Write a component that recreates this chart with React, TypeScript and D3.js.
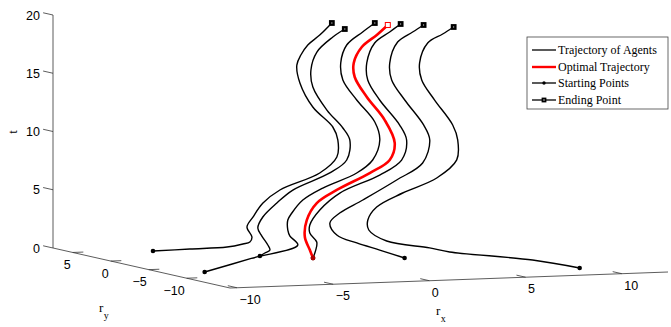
import React from 'react';
import * as d3 from 'd3';

// axis limits (rx, ry, t)
const rxDomain = [-10.36, 12.4];
const ryDomain = [-15.7, 7.6];
const tDomain = [0, 20];

const rxTicks = [-10, -5, 0, 5, 10];
const ryTicks = [-10, -5, 0, 5];
const tTicks = [0, 5, 10, 15, 20];

// each agent: [t, rx, ry]
const agentA = [
  [0, -6.49, 4.24], [0.45, -5.48, 1.94], [0.9, -4.46, -0.36], [1.31, -4.09, -1.52],
  [1.46, -3.73, -1.52], [1.88, -3.62, -1.52], [2.75, -3.88, -1.52], [3.59, -3.57, -1.52],
  [4.76, -3.05, -1.52], [5.83, -2.17, -1.52], [7.16, -0.1, -1.52], [8.48, 0.79, -1.52],
  [9.94, 0.84, -1.52], [11.07, 0.58, -1.52], [12.85, -0.46, -1.52], [14.95, -1.13, -1.52],
  [16.5, -1.29, -1.52], [17.35, -1.08, -1.52], [18.19, -0.72, -1.52], [19.0, -0.1, -1.52],
  [20, 0.53, -1.52],
];
const agentB = [
  [0, -2.69, -0.21], [0.6, -3.26, -2.3], [1.26, -3.97, -4.77], [1.7, -4.08, -4.77],
  [2.49, -4.39, -4.77], [3.19, -4.6, -4.77], [4.12, -4.34, -4.77], [5.28, -3.61, -4.77],
  [6.34, -2.78, -4.77], [7.69, -0.86, -4.77], [8.75, 0.02, -4.77], [10.46, 0.18, -4.77],
  [11.51, -0.18, -4.77], [13.1, -1.01, -4.77], [15.12, -1.74, -4.77], [16.59, -1.84, -4.77],
  [18.11, -1.53, -4.77], [19.35, -0.7, -4.77], [20, -0.08, -4.77],
];
const agentC = [
  [0, -8.33, -7.22], [0.6, -4.94, -4.77], [1.19, -1.55, -2.31], [1.98, -1.96, -2.31],
  [2.5, -2.07, -2.31], [3.36, -2.07, -2.31], [3.95, -1.86, -2.31], [5.03, -1.29, -2.31],
  [6.0, -0.25, -2.31], [7.18, 1.51, -2.31], [8.25, 2.34, -2.31], [9.94, 2.71, -2.31],
  [11.5, 2.45, -2.31], [13.45, 1.51, -2.31], [15.21, 0.79, -2.31], [16.67, 0.68, -2.31],
  [18.2, 0.99, -2.31], [19.27, 1.82, -2.31], [20, 2.45, -2.31],
];
const agentD = [
  [0, -0.71, -2.18], [0.87, -1.0, -3.28], [1.55, -0.95, -3.28], [2.34, -1.31, -3.28],
  [3.03, -1.31, -3.28], [4.29, -0.79, -3.28], [5.68, 0.25, -3.28], [7.1, 2.32, -3.28],
  [8.32, 3.46, -3.28], [10.02, 3.72, -3.28], [11.33, 3.36, -3.28], [13.54, 2.32, -3.28],
  [15.3, 1.7, -3.28], [16.76, 1.65, -3.28], [18.45, 2.06, -3.28], [19.35, 2.84, -3.28],
  [20, 3.41, -3.28],
];
const agentE = [
  [0, 3.39, -3.85], [0.82, 1.96, -4.2], [1.5, 0.77, -4.2], [2.25, -0.27, -4.2],
  [3.3, -0.63, -4.2], [4.12, -0.12, -4.2], [5.17, 1.08, -4.2], [6.78, 2.84, -4.2],
  [8.16, 4.19, -4.2], [10.11, 4.56, -4.2], [11.42, 4.24, -4.2], [13.62, 3.26, -4.2],
  [15.38, 2.58, -4.2], [16.84, 2.48, -4.2], [18.62, 2.89, -4.2], [19.43, 3.67, -4.2],
  [20, 4.24, -4.2],
];
const agentF = [
  [0, 9.25, -12.05], [0.3, 8.03, -8.94], [0.7, 4.98, -5.75], [1.11, 3.94, -5.75],
  [1.84, 1.71, -5.75], [2.84, 0.78, -5.75], [3.7, 0.73, -5.75], [4.79, 1.19, -5.75],
  [5.91, 2.54, -5.75], [7.09, 4.31, -5.75], [8.58, 5.35, -5.75], [10.29, 5.4, -5.75],
  [11.59, 5.14, -5.75], [13.79, 4.2, -5.75], [15.55, 3.53, -5.75], [17.02, 3.42, -5.75],
  [18.71, 3.84, -5.75], [19.43, 4.62, -5.75], [20, 5.19, -5.75],
];
const optimal = [
  [0, -0.71, -2.18], [0.93, -1.41, -3.54], [2.06, -1.67, -3.54], [3.51, -1.57, -3.54],
  [4.94, -1.05, -3.54], [6.0, -0.01, -3.54], [7.35, 1.7, -3.54], [8.41, 2.74, -3.54],
  [9.85, 3.0, -3.54], [11.85, 2.48, -3.54], [13.88, 1.55, -3.54], [15.64, 0.92, -3.54],
  [16.84, 0.87, -3.54], [18.19, 1.29, -3.54], [19.18, 2.07, -3.54], [20, 2.64, -3.54],
];

const agents = [agentA, agentB, agentC, agentD, agentE, agentF];
const legendLabels = ['Trajectory of Agents', 'Optimal Trajectory', 'Starting Points', 'Ending Point'];

const width = 671;
const height = 327;

// screen corners of the axis box (orthographic view)
const front = [230, 288]; // (rxMin, ryMin, 0)
const rxEnd = [668, 272]; // (rxMax, ryMin, 0)
const ryEnd = [53, 248]; // (rxMin, ryMax, 0)

const sx = d3.scaleLinear().domain(rxDomain).range([0, 1]);
const sy = d3.scaleLinear().domain(ryDomain).range([0, 1]);
const st = d3.scaleLinear().domain(tDomain).range([0, -233]);

const project = (rx, ry, t) => {
  const u = sx(rx);
  const v = sy(ry);
  return [
    front[0] + u * (rxEnd[0] - front[0]) + v * (ryEnd[0] - front[0]),
    front[1] + u * (rxEnd[1] - front[1]) + v * (ryEnd[1] - front[1]) + st(t),
  ];
};

const line = d3.line().curve(d3.curveCatmullRom.alpha(0.5));
const toPath = (pts) => line(pts.map(([t, rx, ry]) => project(rx, ry, t)));

const sans = 'Liberation Sans, Arial, Helvetica, sans-serif';
const serif = 'Liberation Serif, Times New Roman, serif';
const minus = (v) => (v < 0 ? '\u2212' + Math.abs(v) : String(v));

const App = () => {
  const [rx0, rx1] = rxDomain;
  const [ry0, ry1] = ryDomain;
  const axisColor = '#333';

  const tBase = (t) => project(rx0, ry1, t);
  const tTop = tBase(tDomain[1]);
  const tBot = tBase(0);

  const Square = ({ p, color, size = 3.4, sw = 2.4, fill = '#fff' }) => (
    <rect x={p[0] - size / 2} y={p[1] - size / 2} width={size} height={size}
      fill={fill} stroke={color} strokeWidth={sw} />
  );

  const lx = 527, ly = 37;
  const rows = [50, 67, 83, 100];

  return (
    <svg width={width} height={height} style={{ position: 'absolute', left: 0, top: 0, background: '#fff' }}>
      {/* axes */}
      <g stroke={axisColor} strokeWidth={0.8} fill="none">
        <line x1={tBot[0]} y1={tBot[1]} x2={tTop[0]} y2={tTop[1]} />
        <line x1={ryEnd[0]} y1={ryEnd[1]} x2={front[0]} y2={front[1]} />
        <line x1={front[0]} y1={front[1]} x2={rxEnd[0]} y2={rxEnd[1]} />
        {tTicks.map((t) => {
          const a = tBase(t);
          const b = project(rx0, ry1 + 1.3, t);
          return <line key={'tt' + t} x1={a[0]} y1={a[1]} x2={b[0]} y2={b[1]} />;
        })}
        {ryTicks.map((v) => {
          const a = project(rx0, v, 0);
          const b = project(rx0 + 0.55, v, 0);
          return <line key={'yt' + v} x1={a[0]} y1={a[1]} x2={b[0]} y2={b[1]} />;
        })}
        {rxTicks.map((v) => {
          const a = project(v, ry0, 0);
          const b = project(v, ry0 + 1.2, 0);
          return <line key={'xt' + v} x1={a[0]} y1={a[1]} x2={b[0]} y2={b[1]} />;
        })}
      </g>
      <g fontFamily={sans} fontSize={12.5} fill="#000">
        {tTicks.map((t) => {
          const a = tBase(t);
          return (
            <text key={'tl' + t} x={a[0] - 13} y={a[1] + 0.5} textAnchor="end" dominantBaseline="central">
              {minus(t)}
            </text>
          );
        })}
        {ryTicks.map((v) => {
          const a = project(rx0, v, 0);
          return (
            <text key={'yl' + v} x={a[0] - 2} y={a[1] + 12.5} textAnchor="end" dominantBaseline="central">
              {minus(v)}
            </text>
          );
        })}
        {rxTicks.map((v) => {
          const a = project(v, ry0, 0);
          return (
            <text key={'xl' + v} x={a[0] + 2.5} y={a[1] + 12} textAnchor="start" dominantBaseline="central">
              {minus(v)}
            </text>
          );
        })}
      </g>
      {/* axis titles */}
      <g fontFamily={serif} fontSize={13} fill="#000">
        <text transform="translate(17,132) rotate(-90)" textAnchor="middle">t</text>
        <text x={99} y={312}>r<tspan fontSize={10} dx={0.5} dy={7}>y</tspan></text>
        <text x={436} y={315}>r<tspan fontSize={10} dx={0.5} dy={7}>x</tspan></text>
      </g>

      {/* trajectories */}
      {agents.map((a, i) => (
        <path key={'ag' + i} d={toPath(a)} fill="none" stroke="#000" strokeWidth={1.4} />
      ))}
      {agents.map((a, i) => {
        const s = a[0];
        const e = a[a.length - 1];
        const ps = project(s[1], s[2], s[0]);
        const pe = project(e[1], e[2], e[0]);
        return (
          <g key={'mk' + i}>
            <circle cx={ps[0]} cy={ps[1]} r={2.3} fill="#000" />
            <Square p={pe} color="#000" />
          </g>
        );
      })}
      <path d={toPath(optimal)} fill="none" stroke="#f00" strokeWidth={2.6} />
      {(() => {
        const s = optimal[0];
        const e = optimal[optimal.length - 1];
        const ps = project(s[1], s[2], s[0]);
        const pe = project(e[1], e[2], e[0]);
        return (
          <g>
            <circle cx={ps[0]} cy={ps[1]} r={2.4} fill="#b00000" />
            <Square p={pe} color="#f00" size={5} sw={1} />
          </g>
        );
      })()}

      {/* legend */}
      <rect x={lx} y={ly} width={141} height={72} fill="#fff" stroke="#444" strokeWidth={0.8} />
      <g fontFamily={serif} fontSize={12} fill="#000">
        {legendLabels.map((lab, i) => (
          <g key={lab}>
            <line x1={532} x2={556} y1={rows[i]} y2={rows[i]}
              stroke={i === 1 ? '#f00' : '#000'} strokeWidth={i === 1 ? 2.4 : 1.3} />
            {i === 2 && <circle cx={544} cy={rows[i]} r={1.7} fill="#000" />}
            {i === 3 && <Square p={[544, rows[i]]} color="#000" size={3} sw={1.8} />}
            <text x={558} y={rows[i]} dominantBaseline="central">{lab}</text>
          </g>
        ))}
      </g>
    </svg>
  );
};

export default App;
